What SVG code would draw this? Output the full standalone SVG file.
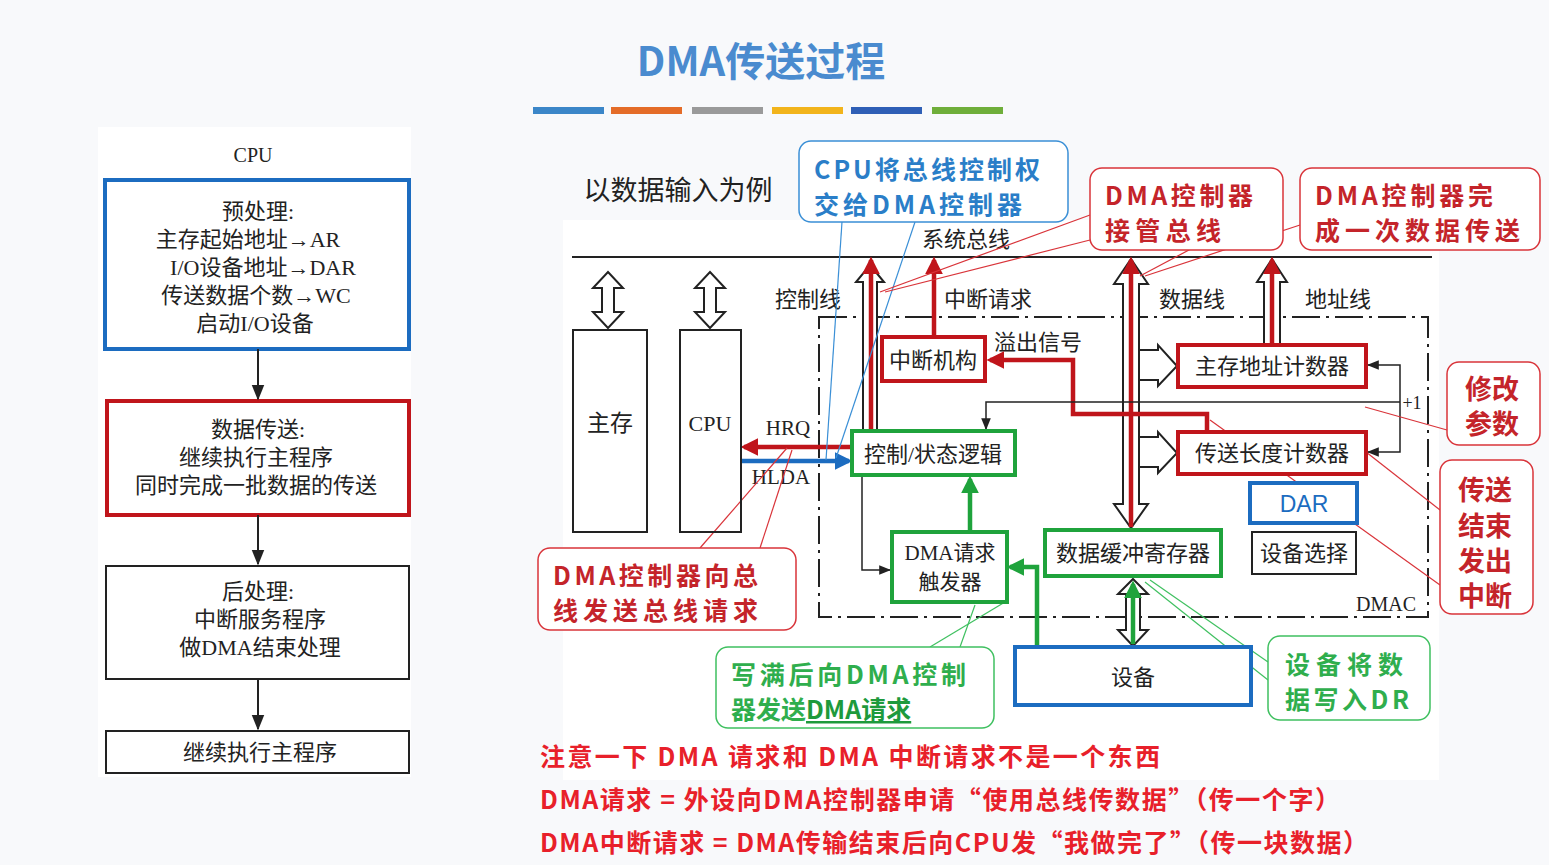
<svg xmlns="http://www.w3.org/2000/svg" width="1549" height="865" viewBox="0 0 1549 865">
<defs>
<style>
.s{font-family:"Liberation Serif","Noto Sans CJK SC",serif;fill:#222}
.c{font-family:"Noto Sans CJK SC","Noto Sans",sans-serif;font-weight:bold}
.bk{fill:none;stroke:#222;stroke-width:2}
.rd{fill:#fff;stroke:#c0151b;stroke-width:4}
.gn{fill:#fff;stroke:#1fa33c;stroke-width:4}
.bl{fill:#fff;stroke:#1c6cc0;stroke-width:4}
.cr{fill:#fff;stroke:#d9343a;stroke-width:1.5}
.cb{fill:#fff;stroke:#3a8fd6;stroke-width:1.5}
.cg{fill:#fff;stroke:#3fc060;stroke-width:1.5}
.hol{fill:#fff;stroke:#222;stroke-width:2}
</style>
<marker id="ab" viewBox="0 0 10 10" refX="9" refY="5" markerWidth="8" markerHeight="8" orient="auto-start-reverse"><path d="M0,1 L10,5 L0,9 Z" fill="#222"/></marker>
<marker id="ar" viewBox="0 0 10 10" refX="8" refY="5" markerWidth="4" markerHeight="4" orient="auto-start-reverse"><path d="M0,0 L10,5 L0,10 Z" fill="#c0151b"/></marker>
<marker id="ag" viewBox="0 0 10 10" refX="8" refY="5" markerWidth="4" markerHeight="4" orient="auto-start-reverse"><path d="M0,0 L10,5 L0,10 Z" fill="#1fa33c"/></marker>
<marker id="abl" viewBox="0 0 10 10" refX="8" refY="5" markerWidth="4" markerHeight="4" orient="auto-start-reverse"><path d="M0,0 L10,5 L0,10 Z" fill="#1c6cc0"/></marker>
</defs>
<rect width="1549" height="865" fill="#f8f9fb"/>
<text x="761" y="76" text-anchor="middle" class="c" font-size="40" fill="#4a8bcf">DMA传送过程</text>
<g>
<rect x="533" y="107" width="71" height="7" fill="#3b86c8"/><rect x="611" y="107" width="71" height="7" fill="#e46c28"/>
<rect x="692" y="107" width="71" height="7" fill="#9a9a9a"/><rect x="772" y="107" width="71" height="7" fill="#f2b41b"/>
<rect x="851" y="107" width="71" height="7" fill="#2f5fb6"/><rect x="932" y="107" width="71" height="7" fill="#6fae3a"/>
</g>
<rect x="98" y="127" width="313" height="650" fill="#fff"/>
<text x="253" y="162" text-anchor="middle" class="s" font-size="20">CPU</text>
<g id="pre"><rect x="105" y="180" width="304" height="169" class="bl" fill="none"/>
<text class="s" font-size="22" text-anchor="middle"><tspan x="258" y="219">预处理:</tspan><tspan x="248" y="247">主存起始地址→AR</tspan><tspan x="263" y="275">I/O设备地址→DAR</tspan><tspan x="256" y="303">传送数据个数→WC</tspan><tspan x="255" y="331">启动I/O设备</tspan></text></g>
<g id="xfer"><rect x="107" y="401" width="302" height="114" class="rd"/>
<text class="s" font-size="22" text-anchor="middle"><tspan x="258" y="437">数据传送:</tspan><tspan x="256" y="465">继续执行主程序</tspan><tspan x="256" y="493">同时完成一批数据的传送</tspan></text></g>
<g id="post"><rect x="106" y="566" width="303" height="113" class="bk" fill="#fff"/>
<text class="s" font-size="22" text-anchor="middle"><tspan x="258" y="599">后处理:</tspan><tspan x="260" y="627">中断服务程序</tspan><tspan x="260" y="655">做DMA结束处理</tspan></text></g>
<g id="cont"><rect x="106" y="731" width="303" height="42" class="bk" fill="#fff"/>
<text x="260" y="760" class="s" font-size="22" text-anchor="middle">继续执行主程序</text></g>
<g id="flowc" stroke="#222" stroke-width="2" marker-end="url(#ab)">
<line x1="258" y1="349" x2="258" y2="399"/><line x1="258" y1="515" x2="258" y2="564"/><line x1="258" y1="679" x2="258" y2="729"/></g>
<rect x="563" y="220" width="876" height="560" fill="#fff"/>
<text x="678" y="200" text-anchor="middle" class="s" font-size="27" font-family="Noto Sans CJK SC">以数据输入为例</text>
<line x1="572" y1="257" x2="1432" y2="257" stroke="#222" stroke-width="2"/>
<text x="966" y="247" text-anchor="middle" class="s" font-size="22">系统总线</text>
<text x="808" y="307" text-anchor="middle" class="s" font-size="22">控制线</text>
<text x="988" y="307" text-anchor="middle" class="s" font-size="22">中断请求</text>
<text x="1192" y="307" text-anchor="middle" class="s" font-size="22">数据线</text>
<text x="1338" y="307" text-anchor="middle" class="s" font-size="22">地址线</text>
<rect x="819" y="317" width="609" height="300" fill="none" stroke="#222" stroke-width="2" stroke-dasharray="28,6,3,6"/>
<text x="1386" y="611" text-anchor="middle" class="s" font-size="20">DMAC</text>
<text x="1412" y="409" text-anchor="middle" class="s" font-size="18">+1</text>
<text x="1038" y="350" text-anchor="middle" class="s" font-size="22">溢出信号</text>
<text x="788" y="435" text-anchor="middle" class="s" font-size="21">HRQ</text>
<text x="781" y="484" text-anchor="middle" class="s" font-size="21">HLDA</text>
<g id="connectors">
<path class="hol" d="M608,272 L623,288 L614,288 L614,312 L623,312 L608,328 L593,312 L602,312 L602,288 L593,288 Z"/>
<path class="hol" d="M710,272 L725,288 L716,288 L716,312 L725,312 L710,328 L695,312 L704,312 L704,288 L695,288 Z"/>
<path class="hol" d="M870,265 L884,282 L877,282 L877,430 L863,430 L863,282 L856,282 Z"/>
<path class="hol" d="M1131,259 L1148,284 L1139,284 L1139,504 L1148,504 L1131,528 L1114,504 L1123,504 L1123,284 L1114,284 Z"/>
<path class="hol" d="M1272,259 L1287,282 L1280,282 L1280,345 L1264,345 L1264,282 L1257,282 Z"/>
<path class="hol" d="M1139,350 L1158,350 L1158,345 L1177,366 L1158,386 L1158,380 L1139,380 Z"/>
<path class="hol" d="M1139,437 L1158,437 L1158,432 L1177,453 L1158,473 L1158,467 L1139,467 Z"/>
<path class="hol" d="M1133,579 L1148,594 L1140,594 L1140,630 L1148,630 L1133,646 L1118,630 L1126,630 L1126,594 L1118,594 Z"/>
<g stroke="#c0151b" stroke-width="4.5" fill="none" marker-end="url(#ar)">
<line x1="871" y1="431" x2="871" y2="260"/>
<line x1="934" y1="337" x2="934" y2="260"/>
<line x1="1131" y1="527" x2="1131" y2="260"/>
<line x1="1272" y1="345" x2="1272" y2="260"/>
<polyline points="1207,432 1207,414 1073,414 1073,360 990,360"/>
<line x1="852" y1="447" x2="744" y2="447"/>
</g>
<line x1="741" y1="461" x2="849" y2="461" stroke="#1c6cc0" stroke-width="4.5" marker-end="url(#abl)"/>
<g stroke="#1fa33c" stroke-width="4.5" fill="none" marker-end="url(#ag)">
<line x1="970" y1="532" x2="970" y2="479"/>
<polyline points="1037,647 1037,567 1010,567"/>
<line x1="1133" y1="644" x2="1133" y2="584"/>
</g>
<g stroke="#222" stroke-width="1.5" fill="none" marker-end="url(#ab)">
<polyline points="1400,402 986,402 986,429"/>
<polyline points="1400,402 1400,365 1368,365"/>
<polyline points="1400,402 1400,452 1368,452"/>
<polyline points="862,475 862,570 890,570"/>
</g>
<g stroke="#3a8fd6" stroke-width="1.2"><line x1="842" y1="222" x2="826" y2="460"/><line x1="915" y1="222" x2="836" y2="458"/></g>
<g stroke="#d9343a" stroke-width="1.2"><line x1="1090" y1="215" x2="880" y2="292"/><line x1="1090" y1="240" x2="885" y2="292"/><line x1="1283" y1="200" x2="1140" y2="276"/><line x1="1300" y1="225" x2="1145" y2="276"/>
<line x1="700" y1="548" x2="787" y2="448"/><line x1="760" y1="548" x2="792" y2="450"/>
<line x1="1447" y1="430" x2="1365" y2="407"/><line x1="1440" y1="510" x2="1366" y2="452"/><line x1="1440" y1="585" x2="1210" y2="420"/></g>
<g stroke="#3fc060" stroke-width="1.2"><line x1="930" y1="647" x2="1005" y2="602"/><line x1="960" y1="647" x2="975" y2="605"/><line x1="1268" y1="662" x2="1150" y2="580"/><line x1="1268" y1="680" x2="1145" y2="582"/></g>
</g>
<g id="mem"><rect x="573" y="330" width="74" height="202" class="bk" fill="#fff"/><text x="610" y="431" text-anchor="middle" class="s" font-size="23">主存</text></g>
<g id="cpu"><rect x="680" y="330" width="61" height="202" class="bk" fill="#fff"/><text x="710" y="431" text-anchor="middle" class="s" font-size="22">CPU</text></g>
<g id="intr"><rect x="882" y="337" width="103" height="44" class="rd"/><text x="933" y="368" text-anchor="middle" class="s" font-size="22">中断机构</text></g>
<g id="ctrl"><rect x="852" y="431" width="163" height="44" class="gn"/><text x="933" y="462" text-anchor="middle" class="s" font-size="22">控制/状态逻辑</text></g>
<g id="dreq"><rect x="892" y="532" width="115" height="70" class="gn"/><text class="s" font-size="21" text-anchor="middle"><tspan x="950" y="560">DMA请求</tspan><tspan x="950" y="589">触发器</tspan></text></g>
<g id="buf"><rect x="1045" y="530" width="176" height="46" class="gn"/><text x="1133" y="561" text-anchor="middle" class="s" font-size="22">数据缓冲寄存器</text></g>
<g id="mac"><rect x="1178" y="345" width="188" height="42" class="rd"/><text x="1272" y="374" text-anchor="middle" class="s" font-size="22">主存地址计数器</text></g>
<g id="wc"><rect x="1178" y="432" width="188" height="42" class="rd"/><text x="1272" y="461" text-anchor="middle" class="s" font-size="22">传送长度计数器</text></g>
<g id="dar"><rect x="1250" y="483" width="107" height="40" class="bl"/><text x="1304" y="512" text-anchor="middle" font-family="Liberation Sans,sans-serif" font-size="23" fill="#1c6cc0">DAR</text></g>
<g id="sel"><rect x="1252" y="532" width="104" height="42" class="bk" fill="#fff"/><text x="1304" y="561" text-anchor="middle" class="s" font-size="22">设备选择</text></g>
<g id="dev"><rect x="1015" y="647" width="236" height="58" class="bl"/><text x="1133" y="685" text-anchor="middle" class="s" font-size="22">设备</text></g>
<g id="cb1"><rect x="799" y="141" width="269" height="81" rx="12" class="cb"/><text class="c" font-size="25" fill="#2a7ec8"><tspan x="814" y="179" textLength="226" lengthAdjust="spacing">CPU将总线控制权</tspan><tspan x="814" y="214" textLength="208" lengthAdjust="spacing">交给DMA控制器</tspan></text></g>
<g id="cr1"><rect x="1090" y="168" width="193" height="82" rx="12" class="cr"/><text class="c" font-size="25" fill="#c4242a"><tspan x="1105" y="205" textLength="148" lengthAdjust="spacing">DMA控制器</tspan><tspan x="1105" y="240" textLength="116" lengthAdjust="spacing">接管总线</tspan></text></g>
<g id="cr2"><rect x="1300" y="168" width="240" height="82" rx="12" class="cr"/><text class="c" font-size="25" fill="#c4242a"><tspan x="1315" y="205" textLength="178" lengthAdjust="spacing">DMA控制器完</tspan><tspan x="1315" y="240" textLength="205" lengthAdjust="spacing">成一次数据传送</tspan></text></g>
<g id="cr3"><rect x="538" y="548" width="258" height="82" rx="12" class="cr"/><text class="c" font-size="25" fill="#c4242a"><tspan x="553" y="585" textLength="205" lengthAdjust="spacing">DMA控制器向总</tspan><tspan x="553" y="620" textLength="205" lengthAdjust="spacing">线发送总线请求</tspan></text></g>
<g id="cg1"><rect x="716" y="647" width="278" height="81" rx="12" class="cg"/><text class="c" font-size="25" fill="#2fae4d"><tspan x="731" y="684" textLength="235" lengthAdjust="spacing">写满后向DMA控制</tspan><tspan x="731" y="719">器发送<tspan fill="#1e9a3c" text-decoration="underline">DMA请求</tspan></tspan></text></g>
<g id="cg2"><rect x="1268" y="636" width="162" height="84" rx="12" class="cg"/><text class="c" font-size="25" fill="#2fae4d"><tspan x="1285" y="674" textLength="118" lengthAdjust="spacing">设备将数</tspan><tspan x="1285" y="709" textLength="124" lengthAdjust="spacing">据写入DR</tspan></text></g>
<g id="cr4"><rect x="1447" y="362" width="93" height="83" rx="12" class="cr"/><text class="c" font-size="27" fill="#c4242a" text-anchor="middle"><tspan x="1492" y="399">修改</tspan><tspan x="1492" y="434">参数</tspan></text></g>
<g id="cr5"><rect x="1440" y="460" width="93" height="154" rx="12" class="cr"/><text class="c" font-size="27" fill="#c4242a" text-anchor="middle"><tspan x="1485" y="500">传送</tspan><tspan x="1485" y="536">结束</tspan><tspan x="1485" y="571">发出</tspan><tspan x="1485" y="606">中断</tspan></text></g>
<text class="c" font-size="25" fill="#e8202a"><tspan x="540" y="766" textLength="620" lengthAdjust="spacing">注意一下 DMA 请求和 DMA 中断请求不是一个东西</tspan><tspan x="540" y="809" textLength="800" lengthAdjust="spacing">DMA请求 = 外设向DMA控制器申请“使用总线传数据”（传一个字）</tspan><tspan x="540" y="852" textLength="828" lengthAdjust="spacing">DMA中断请求 = DMA传输结束后向CPU发“我做完了”（传一块数据）</tspan></text>
</svg>
